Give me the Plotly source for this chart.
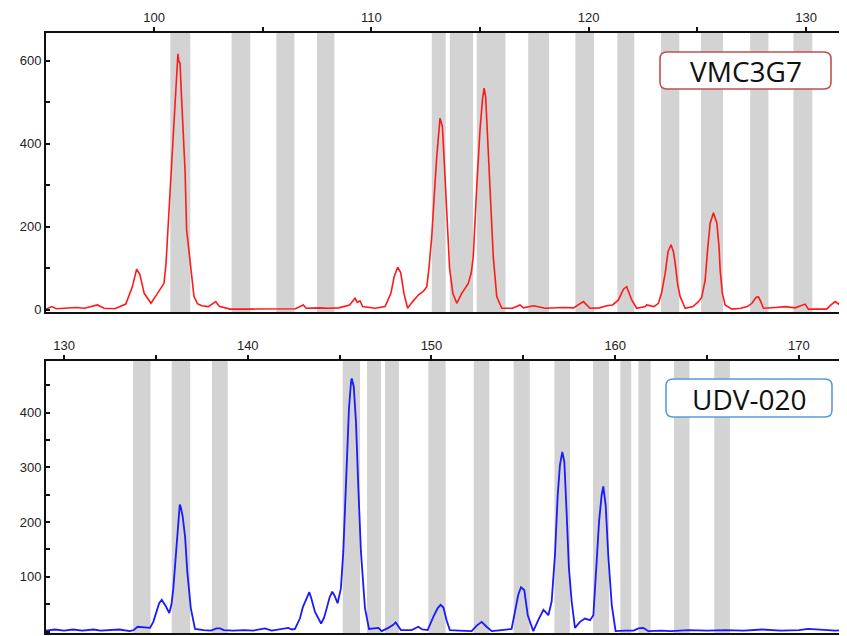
import plotly.graph_objects as go

# ---------------- data ----------------
vmc_size = [95.03, 95.3, 95.5, 96.0, 96.4, 96.8, 97.4, 97.7, 98.2, 98.7, 99.0, 99.20, 99.35, 99.55, 99.86,
            100.1, 100.46, 100.55, 100.66, 100.78, 100.89, 101.0, 101.10, 101.14, 101.20, 101.25, 101.32,
            101.43, 101.50, 101.66, 101.84, 102.0, 102.19, 102.5, 102.84, 103.0, 103.5, 104.5, 105.5, 106.5,
            106.87, 107.0, 107.6, 108.0, 108.5, 109.0, 109.25, 109.35, 109.48, 109.6, 110.17, 110.63, 110.9,
            111.05, 111.21, 111.35, 111.5, 111.67, 111.9, 112.16, 112.4, 112.55, 112.65, 112.78, 112.9,
            113.01, 113.16, 113.27, 113.40, 113.50, 113.6, 113.75, 113.93, 114.16, 114.46, 114.60, 114.69,
            114.85, 115.00, 115.12, 115.19, 115.26, 115.35, 115.46, 115.61, 115.77, 116.0, 116.5, 116.84,
            117.0, 117.46, 118.0, 118.8, 119.3, 119.76, 120.06, 120.5, 120.83, 121.1, 121.37, 121.6, 121.75,
            121.88, 121.98, 122.21, 122.6, 122.67, 123.0, 123.21, 123.35, 123.52, 123.65, 123.79, 123.9,
            123.98, 124.1, 124.21, 124.44, 124.8, 125.05, 125.2, 125.36, 125.48, 125.59, 125.74, 125.90,
            126.0, 126.05, 126.15, 126.28, 126.59, 127.0, 127.3, 127.51, 127.70, 127.81, 127.92, 128.04,
            128.6, 129.04, 129.5, 129.96, 130.11, 130.95, 131.15, 131.34, 131.5, 131.6, 131.84]
vmc_rfu = [2, 8, 3, 4, 6, 4, 12, 4, 3, 14, 55, 98, 85, 40, 16,
           35, 64, 110, 217, 330, 446, 540, 617, 600, 594, 530, 458,
           333, 193, 112, 32, 15, 10, 8, 20, 9, 2, 2, 2, 3,
           12, 4, 5, 4, 5, 12, 28, 18, 22, 8, 4, 8, 40,
           80, 103, 90, 40, 4, 20, 36, 45, 56, 100, 177, 280,
           369, 462, 442, 310, 200, 100, 40, 16, 40, 64, 90, 128,
           297, 434, 510, 534, 514, 410, 273, 128, 32, 4, 4, 12,
           5, 10, 4, 6, 5, 20, 4, 5, 10, 12, 24, 50, 56,
           40, 24, 4, 8, 12, 8, 16, 40, 88, 140, 157, 140,
           112, 60, 32, 4, 8, 20, 30, 72, 150, 209, 234, 209,
           150, 96, 40, 12, 2, 4, 8, 16, 30, 32, 20, 4,
           6, 8, 5, 14, 2, 2, 12, 20, 14, 22, 10]

udv_size = [129.02, 129.5, 130.0, 130.5, 131.0, 131.6, 132.0, 132.5, 133.0, 133.59, 133.8, 134.01, 134.3,
            134.68, 134.86, 135.04, 135.18, 135.32, 135.45, 135.55, 135.73, 135.85, 135.95, 136.10, 136.22,
            136.30, 136.35, 136.46, 136.59, 136.71, 136.90, 137.13, 137.6, 138.0, 138.3, 138.49, 138.7,
            139.2, 139.8, 140.3, 140.94, 141.3, 142.21, 142.4, 142.57, 142.84, 143.0, 143.12, 143.30, 143.35,
            143.45, 143.66, 143.99, 144.15, 144.30, 144.45, 144.60, 144.72, 144.89, 145.07, 145.20, 145.35,
            145.51, 145.62, 145.66, 145.77, 145.89, 146.02, 146.16, 146.38, 146.60, 147.11, 147.29, 147.65,
            147.9, 148.05, 148.2, 148.34, 148.92, 149.28, 149.5, 149.79, 150.10, 150.34, 150.50, 150.65,
            150.83, 151.0, 151.5, 152.19, 152.46, 152.73, 153.0, 153.28, 153.82, 154.36, 154.54, 154.72,
            154.87, 155.05, 155.24, 155.54, 155.81, 156.09, 156.2, 156.36, 156.54, 156.72, 156.87, 156.99,
            157.12, 157.23, 157.36, 157.48, 157.63, 157.81, 158.08, 158.35, 158.63, 158.81, 158.99, 159.12,
            159.26, 159.35, 159.48, 159.62, 159.81, 160.02, 160.5, 161.0, 161.26, 161.53, 161.80, 162.5,
            163.0, 164.0, 165.0, 166.0, 167.0, 168.0, 169.0, 170.0, 170.5, 171.2, 172.0, 172.56]
udv_rfu = [2, 4, 2, 4, 2, 4, 2, 3, 4, 1, 3, 9, 8,
           7, 18, 40, 52, 58, 52, 46, 34, 50, 79, 152, 213,
           232, 228, 210, 173, 109, 43, 5, 3, 2, 6, 6, 3,
           2, 3, 2, 6, 2, 7, 4, 5, 24, 45, 55, 70, 72,
           62, 36, 15, 25, 43, 62, 73, 66, 52, 79, 146, 274,
           408, 455, 462, 447, 383, 262, 146, 43, 5, 7, 1, 7,
           12, 17, 10, 3, 3, 9, 4, 3, 27, 43, 49, 44,
           20, 3, 2, 1, 11, 18, 9, 1, 3, 5, 36, 67,
           81, 76, 30, 1, 21, 40, 36, 30, 55, 140, 249, 304,
           328, 310, 213, 116, 55, 7, 18, 24, 21, 30, 128, 201,
           249, 265, 231, 140, 49, 1, 2, 2, 6, 7, 1, 2,
           1, 3, 2, 3, 2, 4, 2, 3, 5, 4, 2, 3]

vmc_bin_start = [100.75, 103.57, 105.63, 107.50, 112.78, 113.61, 114.85, 117.22, 119.39, 121.32, 123.33, 125.17, 127.43, 129.42]
vmc_bin_end = [101.67, 104.43, 106.46, 108.30, 113.42, 114.68, 116.17, 118.18, 120.25, 122.10, 124.17, 126.18, 128.27, 130.29]

udv_bin_start = [133.76, 135.86, 138.05, 145.17, 146.49, 147.47, 149.83, 152.30, 154.47, 156.69, 158.79, 160.28, 161.26, 163.20, 165.39]
udv_bin_end = [134.71, 136.87, 138.91, 146.11, 147.25, 148.23, 150.77, 153.15, 155.35, 157.54, 159.66, 160.87, 161.93, 164.04, 166.24]

vmc_xticks = [100, 105, 110, 115, 120, 125, 130]
vmc_xlabels = ["100", "", "110", "", "120", "", "130"]
vmc_yticks = [0, 100, 200, 300, 400, 500, 600]
vmc_ylabels = ["0", "", "200", "", "400", "", "600"]
udv_xticks = [130, 135, 140, 145, 150, 155, 160, 165, 170]
udv_xlabels = ["130", "", "140", "", "150", "", "160", "", "170"]
udv_yticks = [0, 50, 100, 150, 200, 250, 300, 350, 400, 450]
udv_ylabels = ["0", "", "100", "", "200", "", "300", "", "400", ""]

# ---------------- figure ----------------
# page has an 8px body margin, so the figure is sized to fit the 847x636 window
OFF = 8
W, H = 847 - OFF, 636 - OFF
ML, MR, MT, MB = 46 - OFF, 1, 33 - OFF, 3
PW, PH = W - ML - MR, H - MT - MB

def py2paper(py):
    return (H - MB - (py - OFF)) / PH

def px2paper(px):
    return (px - OFF - ML) / PW

fig = go.Figure()
fig.add_trace(go.Scatter(x=vmc_size, y=vmc_rfu, mode="lines", line=dict(color="#ff1a1a", width=1.6),
                         xaxis="x", yaxis="y", showlegend=False, hoverinfo="x+y"))
fig.add_trace(go.Scatter(x=udv_size, y=udv_rfu, mode="lines", line=dict(color="#1a1aff", width=1.8),
                         xaxis="x2", yaxis="y2", showlegend=False, hoverinfo="x+y"))

shapes = []
for a, b in zip(vmc_bin_start, vmc_bin_end):
    shapes.append(dict(type="rect", xref="x", yref="y domain", x0=a, x1=b, y0=0, y1=1,
                       fillcolor="#d3d3d3", line=dict(width=0), layer="below"))
for a, b in zip(udv_bin_start, udv_bin_end):
    shapes.append(dict(type="rect", xref="x2", yref="y2 domain", x0=a, x1=b, y0=0, y1=1,
                       fillcolor="#d3d3d3", line=dict(width=0), layer="below"))

def rounded_box(x0p, y0p, x1p, y1p, r, color):
    # pixel box -> paper path with rounded corners
    X0, X1 = px2paper(x0p), px2paper(x1p)
    Yt, Yb = py2paper(y0p), py2paper(y1p)
    rx, ry = r / PW, r / PH
    path = (f"M {X0+rx},{Yt} L {X1-rx},{Yt} Q {X1},{Yt} {X1},{Yt-ry} "
            f"L {X1},{Yb+ry} Q {X1},{Yb} {X1-rx},{Yb} "
            f"L {X0+rx},{Yb} Q {X0},{Yb} {X0},{Yb+ry} "
            f"L {X0},{Yt-ry} Q {X0},{Yt} {X0+rx},{Yt} Z")
    return dict(type="path", xref="paper", yref="paper", path=path,
                fillcolor="white", line=dict(color=color, width=1.6), layer="above")

shapes.append(rounded_box(660, 52, 831, 89, 7, "#c0504d"))
shapes.append(rounded_box(666, 379, 832, 417, 7, "#5b9bd5"))

annotations = [
    dict(text="VMC3G7", xref="paper", yref="paper", x=px2paper(745.5), y=py2paper(71),
         showarrow=False, xanchor="center", yanchor="middle",
         font=dict(family="Open Sans, Noto Sans, sans-serif", size=28, color="#111")),
    dict(text="UDV-020", xref="paper", yref="paper", x=px2paper(749), y=py2paper(398.5),
         showarrow=False, xanchor="center", yanchor="middle",
         font=dict(family="Open Sans, Noto Sans, sans-serif", size=28, color="#111")),
]

tickfont = dict(family="Liberation Sans, Arial, sans-serif", size=13, color="#222")
axis_common = dict(showgrid=False, zeroline=False, showline=True, linecolor="#111", linewidth=2,
                   mirror=True, tickcolor="#111", tickwidth=2, ticklen=4, tickfont=tickfont,
                   tickmode="array", fixedrange=True, automargin=False)

fig.update_layout(
    width=W, height=H,
    margin=dict(l=ML, r=MR, t=MT, b=MB, pad=0, autoexpand=False),
    paper_bgcolor="white", plot_bgcolor="white",
    shapes=shapes, annotations=annotations, showlegend=False,
    xaxis=dict(domain=[0, 1], anchor="y", side="top", range=[95.03, 131.84],
               tickvals=vmc_xticks, ticktext=vmc_xlabels, ticks="outside", **axis_common),
    yaxis=dict(domain=[py2paper(312), 1], anchor="x", range=[-5, 667],
               tickvals=vmc_yticks, ticktext=vmc_ylabels, ticks="inside", **axis_common),
    xaxis2=dict(domain=[0, 1], anchor="y2", side="top", range=[129.02, 172.56],
                tickvals=udv_xticks, ticktext=udv_xlabels, ticks="outside", **axis_common),
    yaxis2=dict(domain=[0, py2paper(361)], anchor="x2", range=[-2.4, 494],
                tickvals=udv_yticks, ticktext=udv_ylabels, ticks="inside", **axis_common),
)

fig.write_html("out.html")
